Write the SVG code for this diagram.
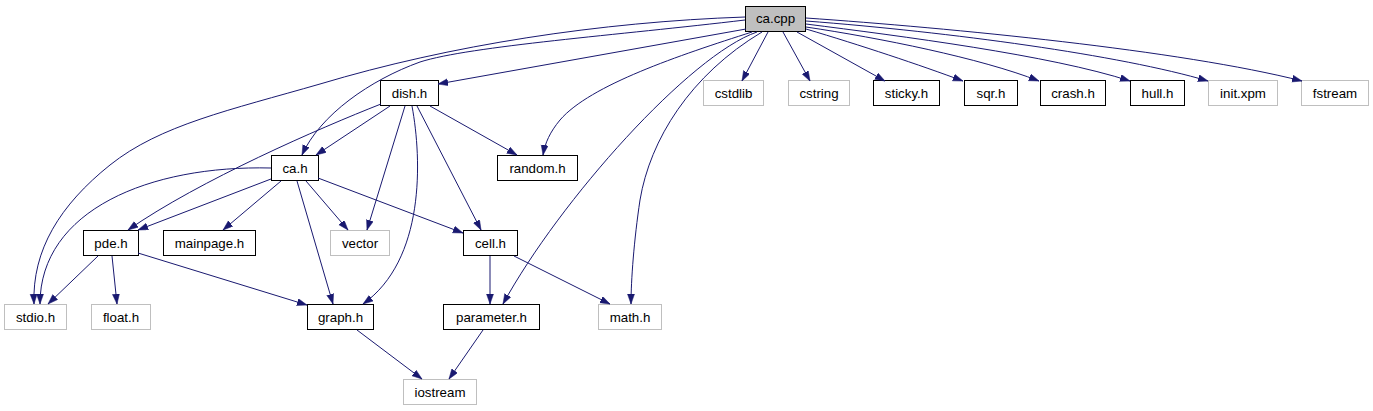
<svg xmlns="http://www.w3.org/2000/svg" width="1373" height="411" viewBox="0 0 1373 411">
<style>
.n rect{fill:#fff;stroke:#000;stroke-width:1}
.n.g rect{stroke:#bfbfbf}
.n.root rect{fill:#bfbfbf}
.n text{font-family:"Liberation Sans",Arial,sans-serif;font-size:13.3px;fill:#000;text-anchor:middle}
.e path{fill:none;stroke:#191970;stroke-width:1;marker-end:url(#ah)}
</style>
<defs>
<marker id="ah" markerUnits="userSpaceOnUse" markerWidth="11" markerHeight="8" refX="10" refY="3.5" orient="auto">
<path d="M0,0 L10,3.5 L0,7 z" fill="#191970" stroke="#191970" stroke-width="0.5"/>
</marker>
</defs>
<rect width="1373" height="411" fill="#fff"/>
<g id="n-ca-cpp" class="n root"><rect x="745.5" y="6.5" width="60" height="25"/><text x="775.5" y="23">ca.cpp</text></g>
<g id="n-cstdlib" class="n g"><rect x="703.5" y="80.5" width="60" height="25"/><text x="733.5" y="97.5">cstdlib</text></g>
<g id="n-cstring" class="n g"><rect x="788.5" y="80.5" width="61" height="25"/><text x="819" y="97.5">cstring</text></g>
<g id="n-sticky" class="n"><rect x="873.5" y="80.5" width="66" height="25"/><text x="906.5" y="97.5">sticky.h</text></g>
<g id="n-sqr" class="n"><rect x="964.5" y="80.5" width="53" height="25"/><text x="991" y="97.5">sqr.h</text></g>
<g id="n-crash" class="n"><rect x="1040.5" y="80.5" width="65" height="25"/><text x="1073" y="97.5">crash.h</text></g>
<g id="n-hull" class="n"><rect x="1130.5" y="80.5" width="54" height="25"/><text x="1157.5" y="97.5">hull.h</text></g>
<g id="n-initxpm" class="n g"><rect x="1208.5" y="80.5" width="69" height="25"/><text x="1243" y="97.5">init.xpm</text></g>
<g id="n-fstream" class="n g"><rect x="1301.5" y="80.5" width="67" height="25"/><text x="1335" y="97.5">fstream</text></g>
<g id="n-dish" class="n"><rect x="380.5" y="80.5" width="58" height="25"/><text x="409.5" y="97.5">dish.h</text></g>
<g id="n-ca-h" class="n"><rect x="271.5" y="155.5" width="47" height="25"/><text x="295" y="172.5">ca.h</text></g>
<g id="n-random" class="n"><rect x="497.5" y="155.5" width="80" height="25"/><text x="537.5" y="172.5">random.h</text></g>
<g id="n-pde" class="n"><rect x="83.5" y="230.5" width="55" height="25"/><text x="111" y="247.5">pde.h</text></g>
<g id="n-mainpage" class="n"><rect x="163.5" y="230.5" width="92" height="25"/><text x="209.5" y="247.5">mainpage.h</text></g>
<g id="n-vector" class="n g"><rect x="330.5" y="230.5" width="59" height="25"/><text x="360" y="247.5">vector</text></g>
<g id="n-cell" class="n"><rect x="463.5" y="230.5" width="54" height="25"/><text x="490.5" y="247.5">cell.h</text></g>
<g id="n-stdio" class="n g"><rect x="4.5" y="304.5" width="62" height="25"/><text x="35.5" y="321.5">stdio.h</text></g>
<g id="n-float" class="n g"><rect x="91.5" y="304.5" width="59" height="25"/><text x="121" y="321.5">float.h</text></g>
<g id="n-graph" class="n"><rect x="307.5" y="304.5" width="66" height="25"/><text x="340.5" y="321.5">graph.h</text></g>
<g id="n-parameter" class="n"><rect x="443.5" y="304.5" width="96" height="25"/><text x="491.5" y="321.5">parameter.h</text></g>
<g id="n-math" class="n g"><rect x="598.5" y="304.5" width="63" height="25"/><text x="630" y="321.5">math.h</text></g>
<g id="n-iostream" class="n g"><rect x="403.5" y="379.5" width="73" height="25"/><text x="440" y="396.5">iostream</text></g>
<g id="connectors" class="e">
<path d="M745,17 C600,22 450,45 320,84 C230,110 160,125 110,165 C60,205 32,250 34,304"/>
<path d="M745,20 C620,35 470,46 420,62 C370,80 320,115 302,155"/>
<path d="M746,29 L438,84"/>
<path d="M752,32 C680,55 590,85 560,120 C550,132 545,143 543,155"/>
<path d="M757,32 C690,55 560,200 503,304"/>
<path d="M762,32 C690,75 650,140 640,200 C634,240 631,280 631,304"/>
<path d="M768,32 L742,81"/>
<path d="M783,32 L810,81"/>
<path d="M797,32 L885,81"/>
<path d="M806,29 C860,45 920,65 963,81"/>
<path d="M806,27 C880,38 980,58 1039,81"/>
<path d="M806,24 C900,36 1050,55 1130,81"/>
<path d="M806,21 C950,32 1120,55 1208,81"/>
<path d="M806,18 C950,28 1180,50 1302,81"/>
<path d="M381,104 C320,128 200,180 128,230"/>
<path d="M390,106 L316,155"/>
<path d="M405,106 L367,230"/>
<path d="M412,106 C422,160 425,260 363,304"/>
<path d="M417,106 L481,230"/>
<path d="M430,106 L517,155"/>
<path d="M271,168 C150,165 40,210 40,304"/>
<path d="M271,179 L138,230"/>
<path d="M281,181 L223,230"/>
<path d="M297,181 L333,304"/>
<path d="M306,181 L348,230"/>
<path d="M318,178 L463,233"/>
<path d="M98,256 L48,304"/>
<path d="M112,256 L117,304"/>
<path d="M138,253 L307,305"/>
<path d="M490,256 L490,304"/>
<path d="M514,256 L610,304"/>
<path d="M357,330 L422,379"/>
<path d="M483,330 L449,379"/>
</g>
</svg>
